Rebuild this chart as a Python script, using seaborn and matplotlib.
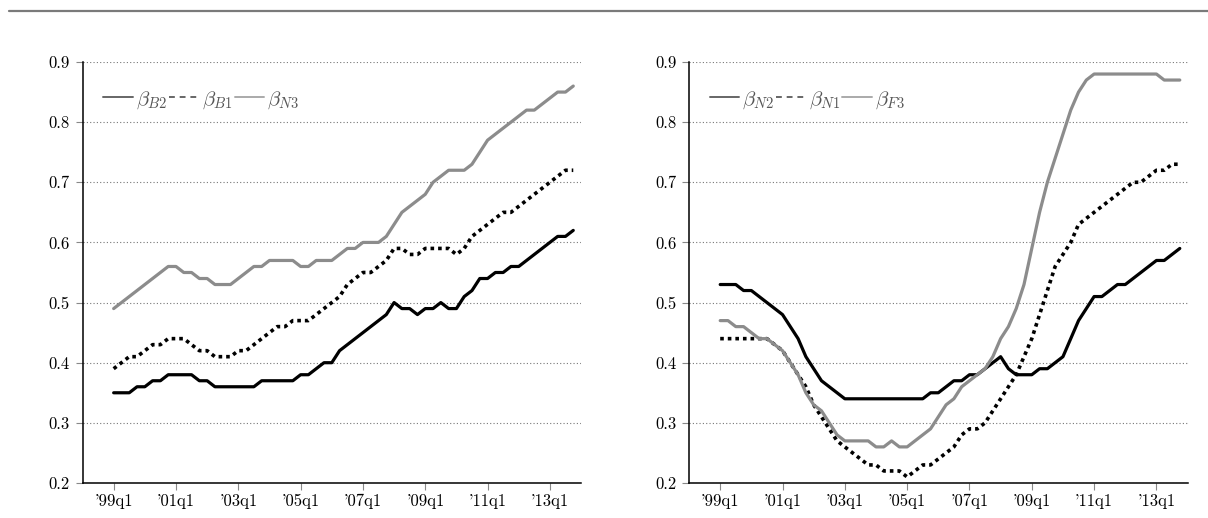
import matplotlib
matplotlib.use("Agg")
import matplotlib.pyplot as plt
from matplotlib.lines import Line2D
import numpy as np
import pandas as pd
import seaborn as sns

### Dados (trimestres 1999q1 .. 2013q4)
trimestres = np.arange(60)
x_ticks = [0, 8, 16, 24, 32, 40, 48, 56]
x_tick_labels = ["'99q1", "'01q1", "'03q1", "'05q1", "'07q1", "'09q1", "'11q1", "'13q1"]
y_ticks = [0.2, 0.3, 0.4, 0.5, 0.6, 0.7, 0.8, 0.9]
y_tick_labels = ["0.2", "0.3", "0.4", "0.5", "0.6", "0.7", "0.8", "0.9"]

# painel esquerdo
beta_B2 = [.35, .35, .35, .36, .36, .37, .37, .38, .38, .38,
           .38, .37, .37, .36, .36, .36, .36, .36, .36, .37,
           .37, .37, .37, .37, .38, .38, .39, .40, .40, .42,
           .43, .44, .45, .46, .47, .48, .50, .49, .49, .48,
           .49, .49, .50, .49, .49, .51, .52, .54, .54, .55,
           .55, .56, .56, .57, .58, .59, .60, .61, .61, .62]
beta_B1 = [.39, .40, .41, .41, .42, .43, .43, .44, .44, .44,
           .43, .42, .42, .41, .41, .41, .42, .42, .43, .44,
           .45, .46, .46, .47, .47, .47, .48, .49, .50, .51,
           .53, .54, .55, .55, .56, .57, .59, .59, .58, .58,
           .59, .59, .59, .59, .58, .59, .61, .62, .63, .64,
           .65, .65, .66, .67, .68, .69, .70, .71, .72, .72]
beta_N3 = [.49, .50, .51, .52, .53, .54, .55, .56, .56, .55,
           .55, .54, .54, .53, .53, .53, .54, .55, .56, .56,
           .57, .57, .57, .57, .56, .56, .57, .57, .57, .58,
           .59, .59, .60, .60, .60, .61, .63, .65, .66, .67,
           .68, .70, .71, .72, .72, .72, .73, .75, .77, .78,
           .79, .80, .81, .82, .82, .83, .84, .85, .85, .86]

# painel direito
beta_N2 = [.53, .53, .53, .52, .52, .51, .50, .49, .48, .46,
           .44, .41, .39, .37, .36, .35, .34, .34, .34, .34,
           .34, .34, .34, .34, .34, .34, .34, .35, .35, .36,
           .37, .37, .38, .38, .39, .40, .41, .39, .38, .38,
           .38, .39, .39, .40, .41, .44, .47, .49, .51, .51,
           .52, .53, .53, .54, .55, .56, .57, .57, .58, .59]
beta_N1 = [.44, .44, .44, .44, .44, .44, .44, .43, .42, .40,
           .38, .36, .33, .31, .29, .27, .26, .25, .24, .23,
           .23, .22, .22, .22, .21, .22, .23, .23, .24, .25,
           .26, .28, .29, .29, .30, .32, .34, .36, .38, .41,
           .44, .48, .52, .56, .58, .60, .63, .64, .65, .66,
           .67, .68, .69, .70, .70, .71, .72, .72, .73, .73]
beta_F3 = [.47, .47, .46, .46, .45, .44, .44, .43, .42, .40,
           .38, .35, .33, .32, .30, .28, .27, .27, .27, .27,
           .26, .26, .27, .26, .26, .27, .28, .29, .31, .33,
           .34, .36, .37, .38, .39, .41, .44, .46, .49, .53,
           .59, .65, .70, .74, .78, .82, .85, .87, .88, .88,
           .88, .88, .88, .88, .88, .88, .88, .87, .87, .87]

paineis = [
    (["$\\beta_{B2}$", "$\\beta_{B1}$", "$\\beta_{N3}$"], beta_B2, beta_B1, beta_N3),
    (["$\\beta_{N2}$", "$\\beta_{N1}$", "$\\beta_{F3}$"], beta_N2, beta_N1, beta_F3),
]

### Estilo
sns.set_style("white")
plt.rcParams["font.family"] = ["cmr10", "DejaVu Serif"]
plt.rcParams["mathtext.fontset"] = "cm"
plt.rcParams["axes.formatter.use_mathtext"] = True

CINZA = "#8c8c8c"
PONTILHADO = (0, (1.0, 1.1))

fig = plt.figure(figsize=(12.08, 5.18), dpi=100)
posicoes = [[0.0683, 0.0676, 0.4127, 0.8127], [0.5704, 0.0676, 0.4127, 0.8127]]

# linha horizontal no topo
fig.add_artist(Line2D([9 / 1208, 1.0], [1 - 10.7 / 518] * 2, color="#7a7a7a", linewidth=1.6))

for pos, (rotulos, s_solida, s_pontos, s_cinza) in zip(posicoes, paineis):
    ax = fig.add_axes(pos)
    df = pd.DataFrame({"q": trimestres, "a": s_solida, "b": s_pontos, "c": s_cinza})
    sns.lineplot(data=df, x="q", y="a", ax=ax, color="black", linewidth=2.3, legend=False)
    sns.lineplot(data=df, x="q", y="b", ax=ax, color="black", linewidth=2.6,
                 linestyle=PONTILHADO, legend=False)
    sns.lineplot(data=df, x="q", y="c", ax=ax, color=CINZA, linewidth=2.3, legend=False)

    ax.set_xlim(-4, 60)
    ax.set_ylim(0.2, 0.9)
    ax.set_xticks(x_ticks)
    ax.set_xticklabels(x_tick_labels, fontsize=12)
    ax.set_yticks(y_ticks)
    ax.set_yticklabels(y_tick_labels, fontsize=12)
    ax.set_xlabel("")
    ax.set_ylabel("")
    ax.grid(axis="y", linestyle=(0, (1, 2)), color="#777777", linewidth=0.8)
    ax.grid(axis="x", visible=False)
    for lado in ["top", "right"]:
        ax.spines[lado].set_visible(False)
    for lado in ["left", "bottom"]:
        ax.spines[lado].set_color("black")
        ax.spines[lado].set_linewidth(1.1)
    ax.tick_params(axis="y", direction="out", length=5, width=0.8, color="#888888", pad=4,
                   left=True, labelcolor="black")
    ax.tick_params(axis="x", direction="out", length=5, width=0.8, color="#888888", pad=3,
                   bottom=True, labelcolor="black")

    alcas = [Line2D([], [], color="#666666", linewidth=1.4),
             Line2D([], [], color="#666666", linewidth=1.4, linestyle=(0, (3, 2.5))),
             Line2D([], [], color="#aaaaaa", linewidth=1.4)]
    leg = ax.legend(alcas, rotulos, loc="center left", bbox_to_anchor=(0.042, 0.91), ncol=3,
                    frameon=False, fontsize=15, handlelength=1.4, handletextpad=0.15,
                    columnspacing=0.1, borderpad=0, borderaxespad=0)
    for t in leg.get_texts():
        t.set_color("#555555")

fig.savefig("out.png", dpi=100)
